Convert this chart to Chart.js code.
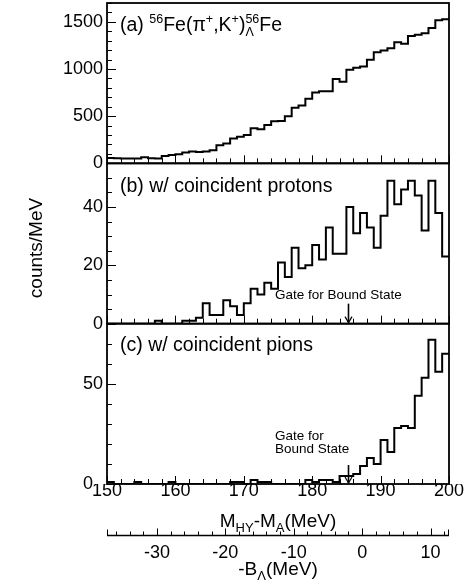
<!DOCTYPE html>
<html>
<head>
<meta charset="utf-8">
<script src="https://cdn.jsdelivr.net/npm/chart.js@4/dist/chart.umd.min.js"></script>
<style>
html,body{margin:0;padding:0;background:#fff;}
#wrap{position:relative;width:472px;height:587px;}
canvas{display:block;}
</style>
</head>
<body>
<div id="wrap"><canvas id="c" width="472" height="587"></canvas></div>
<script>
// ---------- data ----------
const binLow = [150,151,152,153,154,155,156,157,158,159,160,161,162,163,164,165,166,167,168,169,
                170,171,172,173,174,175,176,177,178,179,180,181,182,183,184,185,186,187,188,189,
                190,191,192,193,194,195,196,197,198,199];
const binHigh = 200;
// (a) inclusive spectrum, counts/MeV
const countsA = [57,55,50,50,50,64,53,50,78,89,96,114,125,121,125,139,193,210,264,282,
                 300,371,361,407,446,450,500,589,614,685,750,764,764,893,865,992,1014,1028,1099,1178,
                 1196,1221,1285,1267,1349,1364,1378,1435,1517,1528];
// (b) with coincident protons
const countsB = [0,0,0,0,0,0,0,1,0,0,0,1,1,2,7,3,3,8,6,3,
                 7,12,10,14,12,21,16,26,19,20,27,22,33,24,24,40,31,38,33,26,
                 37,49,41,46,49,44,32,49,38,23];
// (c) with coincident pions
const countsC = [1,0,0,0,1,0,0,0,0,1,0,0,0,0,0,0,0,0,1,1,
                 0,2,1,1,0,0,0,0,0,2,1,2,2,1,4,4,5,9,13,10,
                 22,16,28,29,28,44,53,72,56,65];
const ticksX = [150,160,170,180,190,200];
const ticksBind = [-30,-20,-10,0,10];
const ticksA = [0,500,1000,1500];
const ticksPanelB = [0,20,40];
const ticksPanelC = [0,50];
const yMaxA = 1700, yMaxB = 55, yMaxC = 80;
const gateMass = 185.3;      // M_HY-M_A of the bound-state gate
const bindingZero = 187.3;   // M_HY-M_A where -B_Lambda = 0

// ---------- style ----------
const FONT = '"Liberation Sans", Arial, Helvetica, sans-serif';
Chart.defaults.font.family = FONT;
Chart.defaults.color = '#000';

function steps(vals) {
  const pts = binLow.map((x, i) => ({x: x, y: vals[i]}));
  pts.push({x: binHigh, y: vals[vals.length - 1]});
  return pts;
}
function fixedTicks(arr) {
  return (s) => { s.ticks = arr.map(v => ({value: v})); };
}
function ds(vals, yId) {
  return {data: steps(vals), xAxisID: 'x', yAxisID: yId, stepped: 'before',
          borderColor: '#000', borderWidth: 2, pointRadius: 0, fill: false, tension: 0};
}
function yScale(arr, max, w, zeroLabel) {
  return {
    type: 'linear', position: 'left', stack: 'panels', stackWeight: 1, weight: w,
    min: 0, max: max,
    afterBuildTicks: fixedTicks(arr),
    grid: {display: false, drawTicks: false}, border: {display: false},
    ticks: {font: {size: 18}, color: '#000', padding: 4,
            callback: (v) => (v === 0 && zeroLabel) ? zeroLabel : String(v)},
    afterFit: (s) => { s.width = 107; s.paddingTop = 0; s.paddingBottom = 0; }
  };
}

const minorY = {yA: 100, yB: 5, yC: 10};
const majorY = {yA: 500, yB: 20, yC: 50};

function drawRich(ctx, x, y, parts, base, small, measureOnly) {
  let cx = x;
  for (const p of parts) {
    if (p.t !== undefined) {
      ctx.font = base + 'px ' + FONT;
      if (!measureOnly) ctx.fillText(p.t, cx, y);
      cx += ctx.measureText(p.t).width;
    } else {
      ctx.font = small + 'px ' + FONT;
      let w = 0;
      if (p.sup) { if (!measureOnly) ctx.fillText(p.sup, cx, y - base * 0.3); w = ctx.measureText(p.sup).width; }
      if (p.sub) { if (!measureOnly) ctx.fillText(p.sub, cx, y + base * 0.36); w = Math.max(w, ctx.measureText(p.sub).width); }
      cx += w;
    }
  }
  return cx - x;
}
function drawRichCentered(ctx, cxm, y, parts, base, small) {
  const w = drawRich(ctx, 0, y, parts, base, small, true);
  drawRich(ctx, cxm - w / 2, y, parts, base, small, false);
}

const decor = {
  id: 'decor',
  afterDraw(chart) {
    const ctx = chart.ctx, ca = chart.chartArea, sx = chart.scales.x, sb = chart.scales.xB;
    ctx.save();
    ctx.strokeStyle = '#000'; ctx.fillStyle = '#000';
    const line = (x1, y1, x2, y2) => { ctx.beginPath(); ctx.moveTo(x1, y1); ctx.lineTo(x2, y2); ctx.stroke(); };
    ['yA', 'yB', 'yC'].forEach(id => {
      const s = chart.scales[id];
      ctx.lineWidth = 1.8;
      ctx.strokeRect(ca.left, s.top, ca.right - ca.left, s.bottom - s.top);
      ctx.lineWidth = 1;
      for (let v = 0; v <= s.max + 1e-9; v += minorY[id]) {
        const py = Math.round(s.getPixelForValue(v)) + 0.5;
        const major = Math.abs(v % majorY[id]) < 1e-9;
        line(ca.left, py, ca.left + (major ? 9 : 5), py);
      }
      for (let m = 150; m <= 200; m += 2) {
        const px = Math.round(sx.getPixelForValue(m)) + 0.5;
        const major = m % 10 === 0;
        line(px, s.bottom, px, s.bottom - (major ? 8 : 5));
      }
    });
    // binding-energy axis
    const yb = sb.top + 0.5;
    ctx.lineWidth = 1.3;
    line(ca.left, yb, ca.right, yb);
    ctx.lineWidth = 1;
    line(ca.left + 0.5, yb, ca.left + 0.5, yb - 6);
    line(ca.right - 0.5, yb, ca.right - 0.5, yb - 6);
    for (let b = -36; b <= 12; b += 2) {
      const px = Math.round(sb.getPixelForValue(b)) + 0.5;
      const major = b % 10 === 0;
      line(px, yb, px, yb - (major ? 7 : 4));
    }
    // titles
    ctx.textBaseline = 'middle'; ctx.textAlign = 'left';
    drawRichCentered(ctx, (ca.left + ca.right) / 2, sx.top + 38,
      [{t: 'M'}, {sub: 'HY'}, {t: '-M'}, {sub: 'A'}, {t: '(MeV)'}], 19, 13);
    drawRichCentered(ctx, (ca.left + ca.right) / 2, sb.top + 35,
      [{t: '-B'}, {sub: 'Λ'}, {t: '(MeV)'}], 19, 13);
    // y title
    ctx.save();
    ctx.translate(37, 248);
    ctx.rotate(-Math.PI / 2);
    ctx.textAlign = 'center';
    ctx.font = '19px ' + FONT;
    ctx.fillText('counts/MeV', 0, 0);
    ctx.restore();
    // panel labels
    const yA = chart.scales.yA, yB = chart.scales.yB, yC = chart.scales.yC;
    ctx.textAlign = 'left';
    drawRich(ctx, ca.left + 13, yA.top + 22.5,
      [{t: '(a) '}, {sup: '56'}, {t: 'Fe(π'}, {sup: '+'}, {t: ',K'}, {sup: '+'}, {t: ')'}, {sup: '56', sub: 'Λ'}, {t: 'Fe'}], 19.5, 12.5);
    drawRich(ctx, ca.left + 13, yB.top + 23, [{t: '(b) w/ coincident protons'}], 19.5, 12.5);
    drawRich(ctx, ca.left + 13, yC.top + 22, [{t: '(c) w/ coincident pions'}], 19.5, 12.5);
    // gate annotations
    ctx.font = '13.5px ' + FONT;
    ctx.fillText('Gate for Bound State', ca.left + 168, yB.bottom - 28.5);
    ctx.fillText('Gate for', ca.left + 168, yC.bottom - 48);
    ctx.fillText('Bound State', ca.left + 168, yC.bottom - 35);
    const gx = Math.round(sx.getPixelForValue(gateMass)) + 0.5;
    [[yB, 20], [yC, 19]].forEach(([s, len]) => {
      ctx.lineWidth = 1.6;
      line(gx, s.bottom - len, gx, s.bottom - 1);
      ctx.lineWidth = 1.2;
      line(gx - 3.5, s.bottom - 7, gx, s.bottom - 1);
      line(gx + 3.5, s.bottom - 7, gx, s.bottom - 1);
    });
    ctx.restore();
  }
};

new Chart(document.getElementById('c'), {
  type: 'line',
  data: {
    datasets: [ds(countsA, 'yA'), ds(countsB, 'yB'), ds(countsC, 'yC')]
  },
  options: {
    responsive: false, animation: false, devicePixelRatio: 1,
    layout: {padding: {left: 0, right: 23, top: 3, bottom: 0}},
    plugins: {legend: {display: false}, tooltip: {enabled: false}, title: {display: false}},
    scales: {
      x: {
        type: 'linear', position: 'bottom', weight: 0, min: 150, max: 200,
        afterBuildTicks: fixedTicks(ticksX),
        grid: {display: false, drawTicks: false}, border: {display: false},
        ticks: {font: {size: 18, lineHeight: 1}, color: '#000', padding: -2, maxRotation: 0, autoSkip: false,
                callback: (v) => String(v)},
        afterFit: (s) => { s.height = 51; }
      },
      xB: {
        type: 'linear', position: 'bottom', weight: 1,
        min: 150 - bindingZero, max: 200 - bindingZero,
        afterBuildTicks: fixedTicks(ticksBind),
        grid: {display: false, drawTicks: false}, border: {display: false},
        ticks: {font: {size: 18, lineHeight: 1}, color: '#000', padding: 9, maxRotation: 0, autoSkip: false,
                callback: (v) => String(v)},
        afterFit: (s) => { s.height = 52; }
      },
      yA: yScale(ticksA, yMaxA, 3, null),
      yB: yScale(ticksPanelB, yMaxB, 2, null),
      yC: yScale(ticksPanelC, yMaxC, 1, '0  ')
    }
  },
  plugins: [decor]
});
</script>
</body>
</html>
